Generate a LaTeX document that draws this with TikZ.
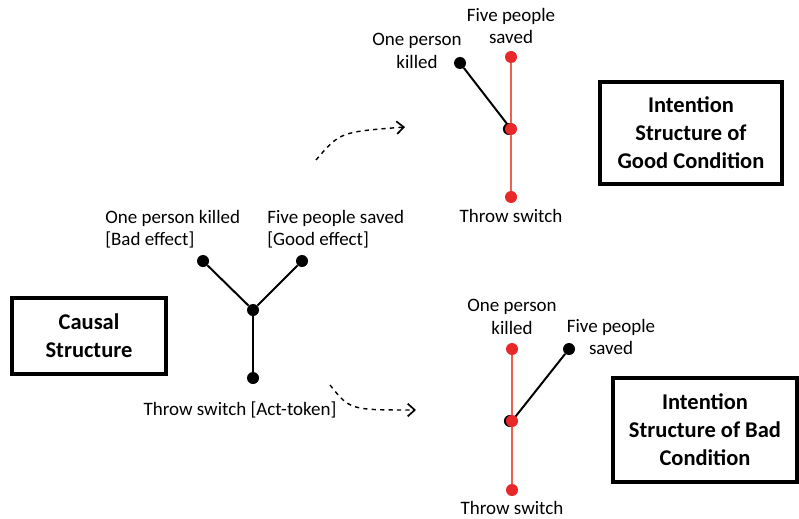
\documentclass[tikz,border=0pt]{standalone}
\usepackage{fontspec}
\setmainfont{Carlito}
\usetikzlibrary{arrows.meta,positioning,calc}
\definecolor{switchred}{RGB}{232,40,42}
\definecolor{pathred}{RGB}{240,96,78}

\begin{document}
\begin{tikzpicture}[x=0.025cm, y=-0.025cm,
    dot/.style={circle, fill=black, inner sep=0pt, minimum size=0.3cm},
    reddot/.style={circle, fill=switchred, inner sep=0pt, minimum size=0.3cm},
    lbl/.style={font=\fontsize{13.5}{16}\selectfont, inner sep=0pt},
    titlebox/.style={draw, line width=2.6pt, align=center, font=\fontsize{16}{20}\selectfont\bfseries},
    link/.style={line width=1.4pt},
    redlink/.style={pathred, line width=1.4pt},
    flow/.style={dashed, line width=1pt, -{Straight Barb[length=5pt, width=9pt, line width=1.2pt]}}]
    \useasboundingbox (0,0) rectangle (799,518);

    % Causal structure
    \node[titlebox, minimum width=3.85cm, minimum height=1.9cm] (causal) at (89,336) {Causal\\Structure};
    \node[dot] (cmid) at (253,310) {};
    \node[dot] (cbad) at (203,261) {};
    \node[dot] (cgood) at (302,261) {};
    \node[dot] (cact) at (253,378) {};
    \draw[link] (cbad) -- (cmid) -- (cgood);
    \draw[link] (cmid) -- (cact);
    \node[lbl, align=left, anchor=west] (cbadlbl) at (105,229) {One person killed\\{[Bad effect]}};
    \node[lbl, align=left, anchor=west] (cgoodlbl) at (267,229) {Five people saved\\{[Good effect]}};
    \node[lbl] (cactlbl) at (240,410) {Throw switch [Act-token]};

    % Intention structure, good condition
    \node[titlebox, minimum width=4.55cm, minimum height=2.55cm] (good) at (691,133) {Intention\\Structure of\\Good Condition};
    \node[reddot] (gtop) at (511,57) {};
    \node[reddot] (gact) at (511,197) {};
    \node[dot] (gbad) at (460,63) {};
    \coordinate (gmid) at (511,129);
    \draw[redlink] (gtop) -- (gact);
    \draw[link] (gbad) -- (gmid);
    \node[dot, xshift=-1.5pt] (gmidb) at (gmid) {};
    \node[reddot] (gmidr) at (gmid) {};
    \node[lbl, align=center] (gtoplbl) at (511,26) {Five people\\saved};
    \node[lbl, align=center] (gbadlbl) at (417,51) {One person\\killed};
    \node[lbl] (gactlbl) at (511,216) {Throw switch};

    % Intention structure, bad condition
    \node[titlebox, minimum width=4.6cm, minimum height=2.6cm] (bad) at (705,430) {Intention\\Structure of Bad\\Condition};
    \node[reddot] (btop) at (512,349) {};
    \node[reddot] (bact) at (512,490) {};
    \node[dot] (bgood) at (569,349) {};
    \coordinate (bmid) at (512,421);
    \draw[redlink] (btop) -- (bact);
    \draw[link] (bgood) -- (bmid);
    \node[dot, xshift=-1.5pt] (bmidb) at (bmid) {};
    \node[reddot] (bmidr) at (bmid) {};
    \node[lbl, align=center] (btoplbl) at (512,317) {One person\\killed};
    \node[lbl, align=center] (bgoodlbl) at (611,337) {Five people\\saved};
    \node[lbl] (bactlbl) at (512,508) {Throw switch};

    % Dashed arrows
    \coordinate (up0) at (316,160);
    \coordinate (up1) at (405,127);
    \coordinate (dn0) at (330,385);
    \coordinate (dn1) at (416,410);
    \draw[flow] (up0) .. controls (340,132) .. (up1);
    \draw[flow] (dn0) .. controls (350,410) .. (dn1);
\end{tikzpicture}
\end{document}
